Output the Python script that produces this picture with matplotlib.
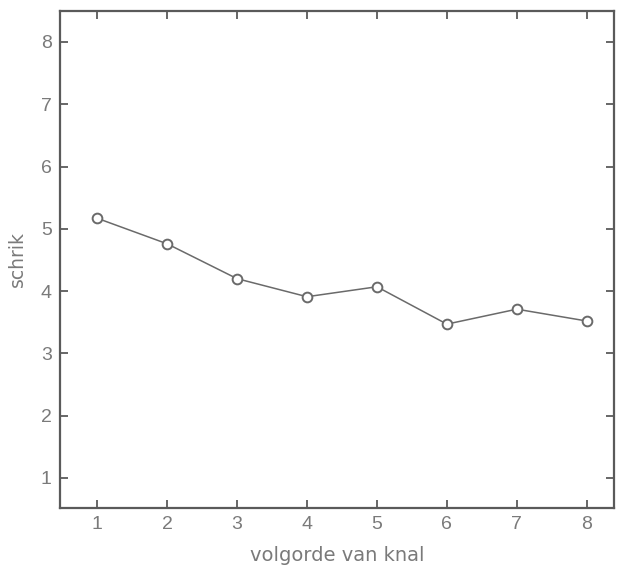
import matplotlib
matplotlib.use("Agg")
import matplotlib.pyplot as plt

# order of the bang vs. startle magnitude
volgorde = [1, 2, 3, 4, 5, 6, 7, 8]
schrik = [5.17, 4.76, 4.20, 3.91, 4.07, 3.47, 3.71, 3.52]
x_ticks = [1, 2, 3, 4, 5, 6, 7, 8]
y_ticks = [1, 2, 3, 4, 5, 6, 7, 8]

text_col = "#7a7a7a"
axis_col = "#5a5a5a"

plt.rcParams["font.family"] = ["Liberation Sans", "DejaVu Sans"]

fig = plt.figure(figsize=(6.19, 5.70), dpi=100)
ax = fig.add_axes([0.097, 0.109, 0.895, 0.872])

ax.plot(volgorde, schrik, color="#6a6a6a", lw=1.1,
        marker="o", ms=7, mfc="white", mec="#6a6a6a", mew=1.4)

ax.set_xlim(0.47, 8.39)
ax.set_ylim(0.52, 8.5)
ax.set_xticks(x_ticks)
ax.set_yticks(y_ticks)

for s in ax.spines.values():
    s.set_color(axis_col)
    s.set_linewidth(1.6)

ax.tick_params(direction="in", length=6, width=1.3, color=axis_col,
               top=True, right=True, labelsize=14, labelcolor=text_col,
               pad=6)

ax.set_xlabel("volgorde van knal", fontsize=14, color=text_col,
              family="DejaVu Sans", labelpad=9)
ax.set_ylabel("schrik", fontsize=13.5, color=text_col,
              family="DejaVu Sans", labelpad=10)

fig.savefig("out.png", dpi=100, facecolor="white")
